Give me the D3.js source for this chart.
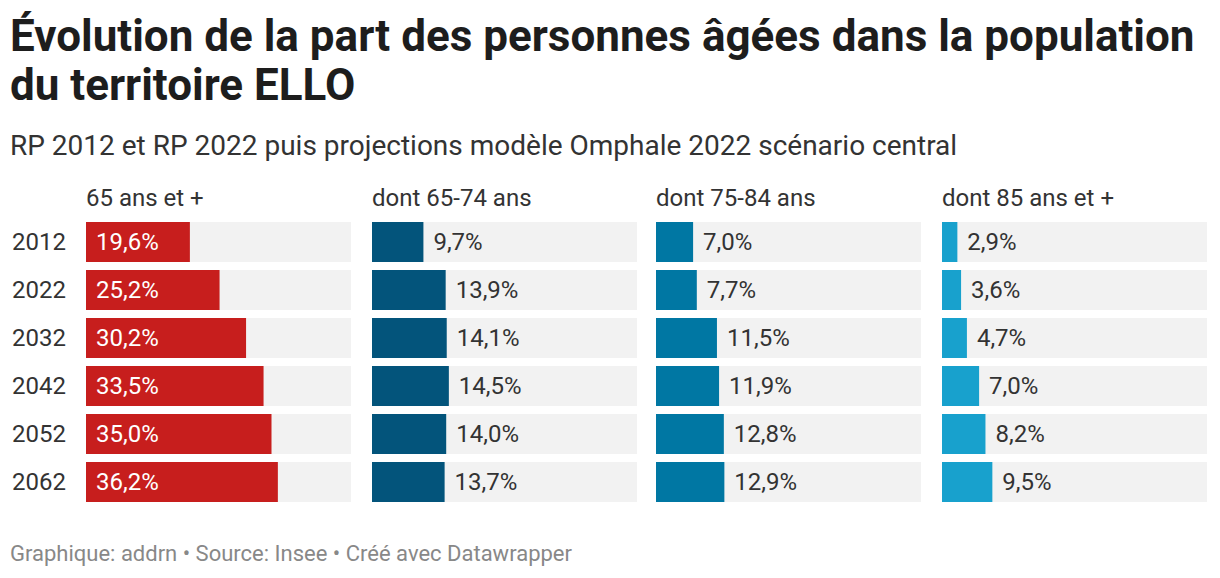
<!DOCTYPE html>
<html>
<head>
<meta charset="utf-8">
<script src="https://cdn.jsdelivr.net/npm/d3@7"></script>
<style>
  body { margin: 0; background: #fff; font-family: Roboto, "Noto Sans", sans-serif; }
</style>
</head>
<body>
<svg id="chart" width="1220" height="578"></svg>
<script>
// Data
const years = ["2012", "2022", "2032", "2042", "2052", "2062"];
const groups = ["65 ans et +", "dont 65-74 ans", "dont 75-84 ans", "dont 85 ans et +"];
const total65 = [19.6, 25.2, 30.2, 33.5, 35.0, 36.2];
const age6574 = [9.7, 13.9, 14.1, 14.5, 14.0, 13.7];
const age7584 = [7.0, 7.7, 11.5, 11.9, 12.8, 12.9];
const age85 = [2.9, 3.6, 4.7, 7.0, 8.2, 9.5];
const series = [total65, age6574, age7584, age85];
const colors = ["#c71e1d", "#03547b", "#0077a3", "#18a1cd"];

const svg = d3.select("#chart");

// Title + subtitle
svg.append("text").attr("x", 10).attr("y", 51)
  .style("font-size", "44px").style("font-weight", "700").style("fill", "#1d1d1d")
  .text("Évolution de la part des personnes âgées dans la population");
svg.append("text").attr("x", 10).attr("y", 100)
  .style("font-size", "44px").style("font-weight", "700").style("fill", "#1d1d1d")
  .text("du territoire ELLO");
svg.append("text").attr("x", 10).attr("y", 155)
  .style("font-size", "28px").style("fill", "#333")
  .text("RP 2012 et RP 2022 puis projections modèle Omphale 2022 scénario central");

// Layout
const panelX = [86, 372, 656, 942];
const panelW = 265;
const x = d3.scaleLinear().domain([0, 50]).range([0, panelW]);
const y = d3.scaleBand().domain(years).range([222, 502]).paddingInner(8 / 48).paddingOuter(0);

// Year labels
svg.selectAll(".year")
  .data(years)
  .enter()
  .append("text")
  .attr("class", "year")
  .attr("x", 12)
  .attr("y", d => y(d) + y.bandwidth() / 2 + 8)
  .style("font-size", "24px")
  .style("fill", "#333")
  .text(d => d);

groups.forEach((g, i) => {
  const p = svg.append("g").attr("transform", `translate(${panelX[i]},0)`);

  // Column header
  p.append("text").attr("x", 0).attr("y", 206)
    .style("font-size", "24px").style("fill", "#333")
    .text(g);

  const rows = years.map((yr, j) => ({ year: yr, value: series[i][j] }));

  // Background bars
  p.selectAll(".bg")
    .data(rows)
    .enter()
    .append("rect")
    .attr("x", 0)
    .attr("y", d => y(d.year))
    .attr("width", panelW)
    .attr("height", y.bandwidth())
    .attr("fill", "#f2f2f2");

  // Value bars
  p.selectAll(".bar")
    .data(rows)
    .enter()
    .append("rect")
    .attr("x", 0)
    .attr("y", d => y(d.year))
    .attr("width", d => x(d.value))
    .attr("height", y.bandwidth())
    .attr("fill", colors[i]);

  // Labels: inside for the wide first panel, outside otherwise
  const inside = i === 0;
  p.selectAll(".label")
    .data(rows)
    .enter()
    .append("text")
    .attr("x", d => inside ? 10 : x(d.value) + 10)
    .attr("y", d => y(d.year) + y.bandwidth() / 2 + 8)
    .style("font-size", "24px")
    .style("fill", inside ? "#fff" : "#333")
    .text(d => d.value.toFixed(1).replace(".", ",") + "%");
});

// Footer
svg.append("text").attr("x", 10).attr("y", 561)
  .style("font-size", "22px").style("fill", "#888")
  .text("Graphique: addrn • Source: Insee • Créé avec Datawrapper");
</script>
</body>
</html>
